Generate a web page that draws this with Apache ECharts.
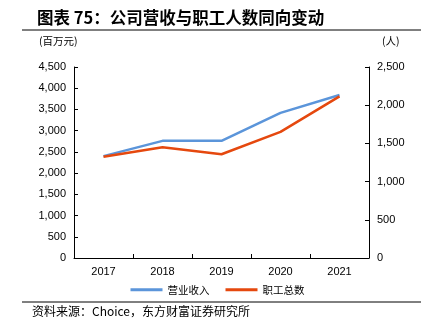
<!DOCTYPE html>
<html>
<head>
<meta charset="utf-8">
<script src="https://cdn.jsdelivr.net/npm/echarts@6/dist/echarts.min.js"></script>
<style>
html,body{margin:0;padding:0;background:#fff;}
#chart{width:435px;height:330px;}
</style>
</head>
<body>
<div id="chart"></div>
<script>
// Years on the category axis
const years = ['2017', '2018', '2019', '2020', '2021'];
// Operating revenue, million yuan (left axis)
const revenue = [2400, 2760, 2760, 3420, 3840];
// Total employees, persons (right axis)
const staff = [1326, 1450, 1358, 1650, 2115];
const seriesNames = ['营业收入', '职工总数'];

const cjk = '"Noto Sans CJK SC", sans-serif';
const latin = '"Liberation Sans", Arial, sans-serif';

const chart = echarts.init(document.getElementById('chart'));
const axisLine = { show: true, lineStyle: { color: '#000', width: 1 } };
const yLabel = { color: '#000', fontSize: 11, fontFamily: latin,
  formatter: v => v.toLocaleString('en-US') };

chart.setOption({
  animation: false,
  grid: { left: 74, right: 66, top: 67, bottom: 72, containLabel: false },
  title: {
    text: '图表 75：公司营收与职工人数同向变动',
    left: 32, top: 4,
    textStyle: { fontFamily: cjk, fontSize: 16.5, fontWeight: 'bold', color: '#000' }
  },
  graphic: [
    { type: 'line', shape: { x1: 22, y1: 30, x2: 421, y2: 30 }, style: { stroke: '#000', lineWidth: 1 } },
    { type: 'text', left: 39, top: 36, style: { text: '(百万元)', fontFamily: cjk, fontSize: 10.5, fill: '#000' } },
    { type: 'text', left: 382, top: 36, style: { text: '(人)', fontFamily: cjk, fontSize: 10.5, fill: '#000' } },
    { type: 'line', shape: { x1: 22, y1: 302, x2: 421, y2: 302 }, style: { stroke: '#000', lineWidth: 1 } },
    { type: 'text', left: 32, top: 305, style: { text: '资料来源：Choice，东方财富证券研究所', fontFamily: cjk, fontSize: 12, fill: '#000' } }
  ],
  legend: {
    data: seriesNames,
    bottom: 30,
    left: 'center',
    itemWidth: 32, itemHeight: 3, itemGap: 16,
    icon: 'rect',
    textStyle: { fontFamily: cjk, fontSize: 10.5, color: '#000' }
  },
  xAxis: {
    type: 'category',
    data: years,
    boundaryGap: true,
    axisLine: axisLine,
    axisTick: { show: true, inside: true, length: 4, lineStyle: { color: '#000' } },
    axisLabel: { color: '#000', fontSize: 11, fontFamily: latin, margin: 8 }
  },
  yAxis: [
    {
      type: 'value', min: 0, max: 4500, interval: 500,
      axisLine: axisLine,
      axisTick: { show: true, inside: true, length: 4, lineStyle: { color: '#000' } },
      axisLabel: yLabel,
      splitLine: { show: false }
    },
    {
      type: 'value', min: 0, max: 2500, interval: 500,
      position: 'right',
      axisLine: axisLine,
      axisTick: { show: true, inside: true, length: 4, lineStyle: { color: '#000' } },
      axisLabel: yLabel,
      splitLine: { show: false }
    }
  ],
  series: [
    {
      name: seriesNames[0], type: 'line', data: revenue, yAxisIndex: 0,
      symbol: 'none', color: '#5B95DA',
      lineStyle: { width: 2.5, color: '#5B95DA' }
    },
    {
      name: seriesNames[1], type: 'line', data: staff, yAxisIndex: 1,
      symbol: 'none', color: '#E5480E',
      lineStyle: { width: 2.5, color: '#E5480E' }
    }
  ]
});
</script>
</body>
</html>
